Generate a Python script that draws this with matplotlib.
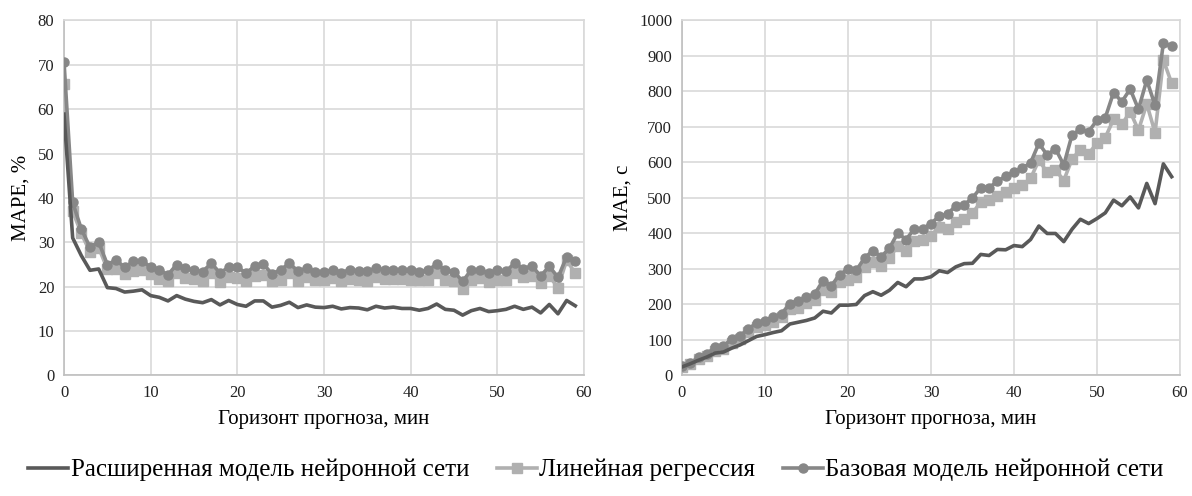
import numpy as np
import matplotlib
matplotlib.use("Agg")
import matplotlib.pyplot as plt

plt.rcParams['font.family'] = ['Liberation Serif', 'DejaVu Serif']

# горизонт прогноза, мин
horizon = list(range(60))

# MAPE, %
mape_ext = [58.9, 31, 27, 23.7, 24, 19.8, 19.6, 18.8, 19, 19.3,
            18, 17.6, 16.8, 18, 17.2, 16.7, 16.4, 17.1, 15.9, 16.9,
            16, 15.6, 16.8, 16.8, 15.4, 15.8, 16.5, 15.3, 15.9, 15.4,
            15.3, 15.6, 15, 15.3, 15.2, 14.8, 15.6, 15.2, 15.4, 15.1,
            15.1, 14.7, 15.1, 16.1, 14.9, 14.7, 13.6, 14.6, 15.1, 14.4,
            14.6, 14.9, 15.6, 14.9, 15.4, 14.1, 16, 13.9, 16.9, 15.7]
mape_lin = [65.6, 37, 32, 27.8, 28.8, 24, 24, 22.8, 23.6, 23.8,
            22.8, 21.8, 21.2, 23, 22, 21.8, 21.2, 23.2, 21, 22.2,
            22, 21.2, 22.4, 22.6, 21.2, 21.5, 23.1, 21.2, 22.2, 21.6,
            21.6, 22, 21.2, 21.7, 21.5, 21.2, 22.2, 21.8, 21.8, 21.8,
            21.6, 21.5, 21.6, 23.2, 21.5, 21.2, 19.6, 21.5, 22, 21,
            21.5, 21.6, 23, 22.1, 22.5, 20.8, 22.4, 19.8, 26, 23]
mape_base = [70.7, 39, 33, 28.9, 30.1, 25, 26, 24.4, 25.7, 25.9,
             24.4, 23.8, 22.7, 25, 24.2, 23.7, 23.4, 25.3, 23.1, 24.4,
             24.4, 23.1, 24.6, 25.1, 22.9, 23.8, 25.3, 23.5, 24.2, 23.4,
             23.4, 23.8, 23.2, 23.8, 23.5, 23.5, 24.2, 23.7, 23.7, 23.7,
             23.7, 23.4, 23.7, 25.1, 23.7, 23.4, 21.2, 23.8, 23.8, 23.1,
             23.7, 23.5, 25.3, 24.1, 24.7, 22.4, 24.6, 22.1, 26.7, 25.9]

# MAE, с
mae_ext = [24, 33, 43, 52, 63, 66, 77, 86, 98, 110,
           115, 121, 126, 145, 150, 155, 162, 181, 176, 198,
           198, 200, 225, 236, 226, 240, 262, 250, 272, 272,
           278, 295, 290, 306, 315, 316, 341, 338, 355, 354,
           366, 363, 383, 421, 400, 400, 377, 412, 440, 428,
           442, 458, 494, 478, 503, 472, 541, 484, 596, 560]
mae_lin = [25, 33, 46, 55, 70, 75, 92, 102, 122, 136,
           141, 150, 165, 186, 191, 203, 212, 240, 236, 263,
           269, 276, 305, 320, 309, 332, 364, 351, 380, 381,
           393, 419, 413, 433, 442, 457, 489, 493, 505, 517,
           528, 536, 555, 606, 573, 580, 549, 610, 636, 625,
           654, 670, 722, 707, 743, 691, 765, 684, 889, 823]
mae_base = [27, 35, 51, 61, 80, 84, 102, 112, 131, 148,
            154, 164, 174, 202, 211, 220, 230, 267, 253, 284,
            300, 296, 331, 352, 334, 359, 401, 383, 413, 413,
            428, 449, 455, 478, 481, 500, 529, 529, 547, 561,
            574, 584, 599, 654, 621, 639, 593, 678, 693, 687,
            719, 726, 797, 771, 807, 750, 832, 761, 936, 928]

names = ['Расширенная модель нейронной сети', 'Линейная регрессия',
         'Базовая модель нейронной сети']

c_ext = '#595959'
c_lin = '#b0b0b0'
c_base = '#878787'
grid_c = '#d9d9d9'

fig = plt.figure(figsize=(11.92, 4.96), dpi=100)
ax1 = fig.add_axes([0.0537, 0.243, 0.4362, 0.7157])
ax2 = fig.add_axes([0.5721, 0.243, 0.4178, 0.7157])


def draw(ax, ext, lin, base, ymax, ystep, ylabel):
    ax.plot(horizon, lin, color=c_lin, lw=2.6, marker='s', ms=6.5, zorder=3)
    ax.plot(horizon, base, color=c_base, lw=2.6, marker='o', ms=6.5, zorder=4)
    ax.plot(horizon, ext, color=c_ext, lw=2.6, zorder=5,
            solid_joinstyle='round')
    ax.set_xlim(0, 60)
    ax.set_ylim(0, ymax)
    ax.set_xticks(np.arange(0, 61, 10))
    ax.set_yticks(np.arange(0, ymax + 1, ystep))
    ax.grid(True, color=grid_c, lw=1.2)
    ax.set_axisbelow(True)
    for s in ax.spines.values():
        s.set_color(grid_c)
        s.set_linewidth(1.2)
    ax.spines['left'].set_color('#bfbfbf')
    ax.spines['bottom'].set_color('#bfbfbf')
    ax.tick_params(length=0, labelsize=12, pad=7, colors='#222222')
    ax.set_xlabel('Горизонт прогноза, мин', fontsize=15, labelpad=6)
    ax.set_ylabel(ylabel, fontsize=15, labelpad=5)


draw(ax1, mape_ext, mape_lin, mape_base, 80, 10, 'MAPE, %')
draw(ax2, mae_ext, mae_lin, mae_base, 1000, 100, 'MAE, с')

h1, = ax1.plot([], [], color=c_ext, lw=2.6)
h2, = ax1.plot([], [], color=c_lin, lw=2.6, marker='s', ms=6.5)
h3, = ax1.plot([], [], color=c_base, lw=2.6, marker='o', ms=6.5)
fig.legend([h1, h2, h3], names, loc='center', bbox_to_anchor=(0.5, 0.052),
           ncol=3, frameon=False, fontsize=18, handlelength=1.6,
           handletextpad=0.1, columnspacing=1.1)

fig.savefig('out.png', dpi=100)
